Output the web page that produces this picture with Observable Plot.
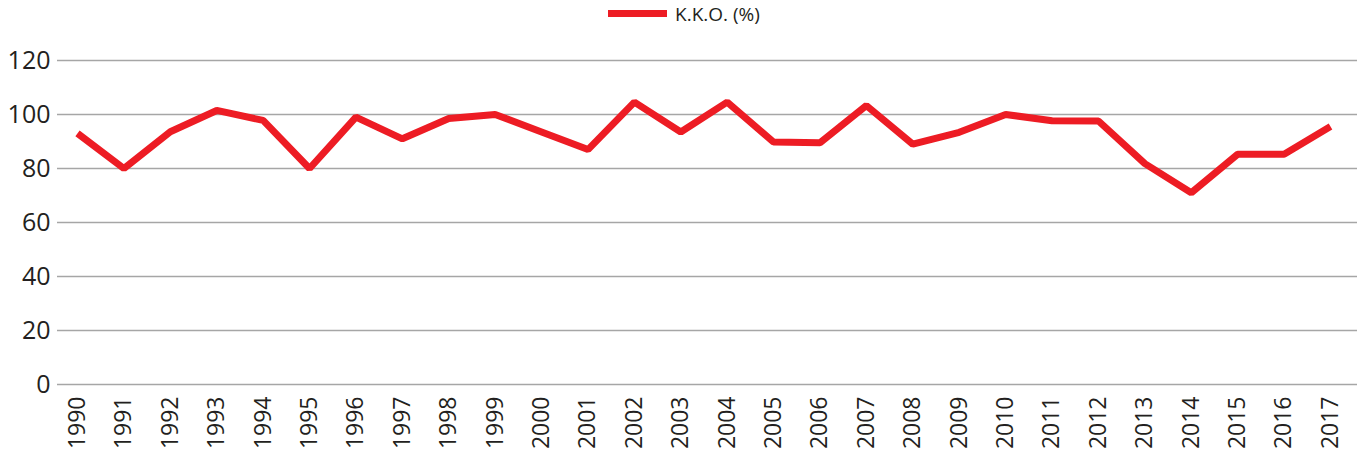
<!DOCTYPE html>
<html>
<head>
<meta charset="utf-8">
<script src="https://cdn.jsdelivr.net/npm/d3@7"></script>
<script src="https://cdn.jsdelivr.net/npm/@observablehq/plot@0.6"></script>
<style>
  body { margin: 0; background: #fff; font-family: "Open Sans", sans-serif; color: #231f20; }
  #legend { height: 27px; margin-bottom: 3px; display: flex; align-items: center; justify-content: center; gap: 8px; font-size: 19px; }
  #legend .sw { width: 59px; height: 7px; background: #ed1c24; }
  #chart svg { display: block; }
</style>
</head>
<body>
<div id="legend"><span class="sw"></span><span>K.K.O. (%)</span></div>
<div id="chart"></div>
<script>
const years = [1990,1991,1992,1993,1994,1995,1996,1997,1998,1999,2000,2001,2002,2003,2004,2005,2006,2007,2008,2009,2010,2011,2012,2013,2014,2015,2016,2017];
const kko = [93,80,93.6,101.5,97.8,80,99,91,98.5,100,93.5,87,104.6,93.5,104.6,89.8,89.5,103.3,89,93.4,100,97.7,97.6,81.8,71,85.3,85.3,95.6];
const yTicks = [0,20,40,60,80,100,120];
const seriesName = "K.K.O. (%)";

const data = years.map((y, i) => ({year: y, value: kko[i], series: seriesName}));

const chart = Plot.plot({
  width: 1368,
  height: 435,
  marginTop: 30,
  marginBottom: 81,
  marginLeft: 57,
  marginRight: 11,
  style: {fontFamily: "'Open Sans', sans-serif", color: "#231f20", background: "#fff"},
  x: {type: "linear", domain: [1990, 2017], insetLeft: 20, insetRight: 27},
  y: {domain: [0, 120]},
  marks: [
    Plot.ruleY(yTicks, {stroke: "#a6a6a6", strokeWidth: 1.5}),
    Plot.axisY({ticks: yTicks, tickSize: 0, tickPadding: 7, fontSize: 25, label: null}),
    Plot.axisX({ticks: years, tickFormat: d => String(d), tickRotate: -90, tickSize: 0, tickPadding: 12, fontSize: 23, label: null}),
    Plot.line(data, {x: "year", y: "value", stroke: "#ed1c24", strokeWidth: 7, strokeLinejoin: "miter", strokeLinecap: "butt"})
  ]
});
document.getElementById("chart").appendChild(chart);
</script>
</body>
</html>
